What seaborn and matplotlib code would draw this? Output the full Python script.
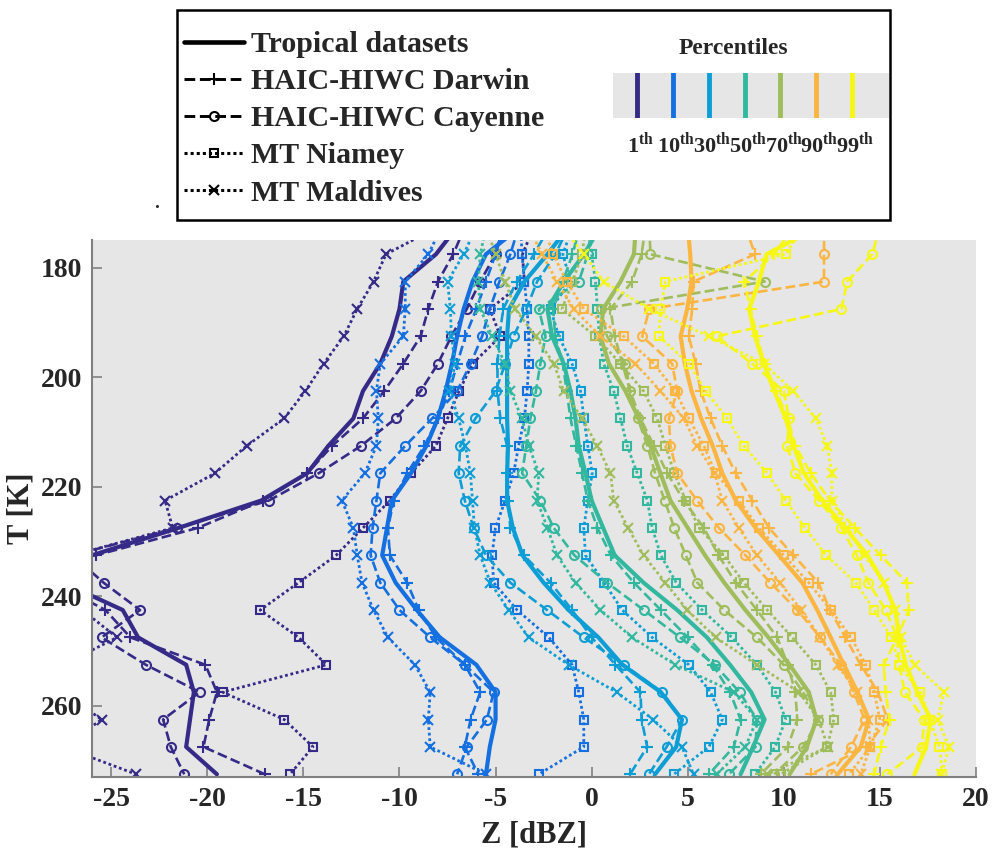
import numpy as np
import pandas as pd
import matplotlib
matplotlib.use("Agg")
import matplotlib.pyplot as plt
from matplotlib.lines import Line2D
from matplotlib.patches import Rectangle
import seaborn as sns

# temperature levels (K), top one sits just above the plotted range
T_LEVELS = [172.5, 177.5, 182.5, 187.5, 192.5, 197.5, 202.5, 207.5, 212.5, 217.5, 222.5,
            227.5, 232.5, 237.5, 242.5, 247.5, 252.5, 257.5, 262.5, 267.5, 272.5]

PERCENTILES = [1, 10, 30, 50, 70, 90, 99]
PCT_COLORS = ['#352a87', '#146fe0', '#0d9ed6', '#33b8a0', '#a0bd5c', '#fbb540', '#f6f714']

# Z [dBZ] per percentile (rows: 1, 10, 30, 50, 70, 90, 99)
tropical = [
    [-7.0, -8.1, -9.8, -10.0, -10.4, -11.0, -11.9, -12.4, -13.7, -14.8, -17.2, -21.5, -26.0, -27.5, -24.4, -23.6, -21.1, -20.7, -20.9, -21.1, -19.5],
    [-3.7, -5.5, -6.2, -6.66, -7.0, -7.27, -7.6, -8.0, -8.6, -9.4, -10.4, -10.65, -10.9, -10.2, -9.1, -7.9, -6.0, -5.0, -5.0, -5.3, -5.5],
    [-1.2, -2.3, -3.5, -4.3, -4.4, -4.4, -4.4, -4.4, -4.35, -4.4, -4.4, -4.1, -3.6, -2.5, -1.2, 0.35, 1.6, 3.6, 4.7, 4.4, 3.3],
    [0.45, -0.4, -1.45, -2.3, -2.06, -1.45, -1.1, -0.84, -0.67, -0.32, 0.0, 0.6, 1.2, 2.7, 4.45, 6.0, 7.2, 8.3, 9.0, 8.4, 7.75],
    [2.3, 2.2, 1.5, 0.6, 0.46, 0.9, 1.76, 2.45, 3.06, 3.58, 4.1, 5.0, 5.9, 6.9, 8.0, 9.2, 10.3, 11.3, 11.7, 11.2, 10.3],
    [5.0, 5.13, 5.2, 4.97, 4.63, 4.85, 5.2, 5.7, 6.3, 6.8, 7.5, 8.53, 9.75, 10.96, 11.74, 12.44, 13.13, 13.83, 14.43, 14.0, 12.8],
    [11.8, 9.1, 8.7, 8.2, 8.5, 8.96, 9.5, 10.1, 10.5, 11.05, 12.0, 13.2, 14.35, 15.2, 15.8, 16.0, 16.35, 16.95, 17.65, 17.4, 16.8],
]
darwin = [
    [-6.6, -7.2, -8.0, -8.5, -8.9, -9.8, -10.8, -11.9, -13.5, -14.8, -17.1, -20.5, -25.8, -28.0, -25.3, -24.0, -20.1, -19.5, -19.9, -20.2, -17.0],
    [-4.6, -5.0, -5.5, -6.0, -6.57, -7.0, -7.4, -8.0, -8.7, -9.6, -10.3, -10.6, -10.5, -9.6, -9.0, -8.1, -6.6, -5.8, -6.3, -6.6, -5.9],
    [-2.2, -3.0, -3.9, -4.6, -4.8, -4.9, -4.9, -4.75, -4.4, -4.4, -4.35, -4.23, -3.53, -2.14, -1.02, 0.0, 1.24, 2.54, 2.6, 2.89, 2.0],
    [-0.6, -1.0, -1.5, -2.0, -1.9, -1.5, -1.3, -1.1, -0.8, -0.5, -0.2, 0.3, 1.0, 2.2, 3.6, 5.0, 6.3, 7.2, 7.75, 7.4, 6.1],
    [2.8, 2.6, 2.1, 0.98, 1.2, 1.6, 2.0, 2.54, 3.24, 3.93, 4.8, 5.84, 6.6, 7.5, 8.6, 9.66, 10.2, 10.6, 10.7, 10.2, 8.8],
    [8.0, 8.5, 5.3, 5.23, 5.06, 5.41, 5.67, 6.19, 6.8, 7.49, 8.36, 9.23, 10.5, 11.8, 12.4, 13.2, 14.0, 14.9, 15.4, 14.3, 11.4],
    [10.5, 9.5, 7.95, 8.27, 8.6, 9.0, 9.6, 10.2, 10.6, 11.4, 12.4, 13.7, 15.04, 16.4, 16.5, 15.9, 15.2, 15.3, 15.5, 15.04, 14.7],
]
cayenne = [
    [-4.6, -5.0, -5.8, -6.5, -7.3, -8.0, -8.9, -10.2, -12.0, -14.2, -16.8, -21.6, -27.0, -25.4, -23.5, -25.5, -23.2, -20.4, -22.3, -21.9, -21.2],
    [-3.8, -4.23, -4.8, -5.3, -5.7, -6.3, -7.0, -8.3, -9.7, -11.0, -11.2, -11.4, -11.5, -11.0, -10.0, -8.4, -6.6, -5.1, -5.45, -6.5, -7.0],
    [-1.2, -1.89, -2.84, -3.4, -4.06, -4.5, -5.0, -6.05, -6.84, -6.92, -6.6, -6.14, -5.5, -4.23, -2.32, -0.41, 1.67, 3.67, 4.71, 3.9, 2.98],
    [0.0, -0.2, -0.67, -2.75, -2.4, -2.67, -2.9, -3.19, -3.4, -3.62, -2.67, -1.97, -0.9, 0.8, 2.71, 4.6, 6.4, 7.7, 8.6, 8.53, 7.14],
    [3.0, 3.06, 9.0, 0.5, 0.8, 1.76, 2.0, 2.4, 2.9, 3.3, 3.8, 4.3, 4.9, 5.5, 6.9, 8.6, 10.0, 11.0, 11.8, 11.0, 9.5],
    [12.1, 12.09, 12.09, 3.0, 2.63, 4.19, 4.45, 4.02, 4.1, 4.45, 5.49, 6.62, 8.0, 9.3, 10.7, 11.9, 12.96, 13.65, 14.2, 13.5, 12.44],
    [15.0, 14.6, 13.3, 13.0, 6.5, 8.36, 10.0, 10.27, 10.18, 10.6, 11.83, 13.0, 13.8, 14.4, 15.3, 15.9, 16.0, 16.3, 17.3, 17.2, 15.39],
]
niamey = [
    [-3.0, -3.6, -3.5, -5.3, -4.75, -6.2, -6.9, -7.5, -8.1, -9.4, -10.5, -11.9, -13.3, -15.25, -17.25, -15.25, -13.8, -19.2, -16.0, -14.5, -15.7],
    [-3.7, -3.62, -3.5, -3.36, -3.27, -3.27, -3.36, -3.5, -3.8, -4.06, -4.5, -5.01, -5.18, -5.1, -3.88, -2.23, -1.02, -0.67, -0.41, -0.41, -2.75],
    [-1.0, -1.5, -1.1, -2.14, -1.71, -1.02, -0.58, -0.4, -0.2, 0.03, -0.2, -0.41, -0.32, 0.65, 1.59, 3.15, 5.06, 6.19, 6.8, 6.1, 4.28],
    [-0.2, 0.0, 0.2, 0.3, 0.4, 0.63, 1.15, 1.5, 1.85, 2.37, 2.9, 3.15, 3.6, 4.4, 5.75, 7.3, 8.6, 9.57, 10.1, 9.55, 8.5],
    [-0.3, -0.5, -1.0, -1.54, 0.2, 1.5, 2.7, 3.41, 3.84, 4.3, 4.9, 5.6, 6.88, 7.92, 9.14, 10.44, 11.66, 12.44, 12.6, 12.26, 9.83],
    [-2.5, -2.0, -1.3, -0.41, 1.67, 3.24, 4.36, 5.06, 5.84, 6.45, 7.66, 8.7, 10.0, 11.3, 12.44, 13.5, 14.26, 14.7, 15.0, 14.5, 13.4],
    [11.0, 10.1, 3.84, 3.58, 3.5, 5.06, 5.93, 7.05, 7.92, 9.14, 10.1, 11.1, 12.2, 13.74, 14.7, 15.6, 16.0, 17.1, 17.6, 18.1, 18.25],
]
maldives = [
    [-8.0, -10.7, -11.35, -12.2, -12.9, -13.95, -14.9, -16.0, -17.95, -19.6, -22.2, -21.8, -27.0, -28.0, -26.5, -24.7, -27.5, -27.5, -25.5, -27.5, -23.7],
    [-7.8, -8.5, -9.7, -9.7, -9.8, -11.0, -11.2, -11.1, -11.2, -11.8, -13.0, -12.4, -12.2, -11.95, -11.35, -10.6, -9.2, -8.4, -8.5, -8.4, -5.5],
    [-6.0, -6.66, -7.5, -7.35, -7.3, -7.1, -7.4, -6.92, -6.57, -6.31, -6.2, -6.1, -5.8, -5.27, -4.32, -3.27, -1.2, 1.3, 3.2, 4.7, 5.3],
    [-5.5, -5.79, -5.9, -5.79, -5.18, -4.5, -4.23, -3.62, -3.27, -2.75, -2.84, -2.3, -1.8, -0.84, 0.46, 2.1, 4.36, 7.4, 8.6, 8.0, 6.5],
    [-5.5, -5.0, -4.5, -3.97, -2.92, -1.97, -1.45, -0.5, 0.29, 0.98, 1.15, 1.9, 2.7, 3.84, 4.97, 6.45, 8.6, 10.8, 11.8, 12.3, 9.14],
    [-3.3, -2.58, -1.8, -0.93, 0.46, 2.28, 3.58, 4.8, 5.49, 6.4, 6.8, 7.66, 8.6, 9.8, 10.9, 11.9, 12.8, 13.8, 14.4, 14.5, 14.0],
    [-1.5, -0.41, 0.63, 3.0, 6.1, 8.96, 10.5, 11.66, 12.26, 12.5, 12.5, 13.3, 14.2, 15.2, 15.8, 16.1, 16.8, 18.34, 18.0, 18.6, 18.2],
]

DATASETS = {
    'HAIC-HIWC Darwin': darwin,
    'HAIC-HIWC Cayenne': cayenne,
    'MT Niamey': niamey,
    'MT Maldives': maldives,
    'Tropical datasets': tropical,
}
LEGEND_ORDER = ['Tropical datasets', 'HAIC-HIWC Darwin', 'HAIC-HIWC Cayenne', 'MT Niamey', 'MT Maldives']

DOT = (0, (1.0, 1.0))
STYLES = {
    'Tropical datasets': dict(linestyle='-', lw=3.0, marker=None, ms=0),
    'HAIC-HIWC Darwin': dict(linestyle='--', lw=1.9, marker='+', ms=8),
    'HAIC-HIWC Cayenne': dict(linestyle='--', lw=1.9, marker='o', ms=6.5),
    'MT Niamey': dict(linestyle=DOT, lw=2.0, marker='s', ms=5.5),
    'MT Maldives': dict(linestyle=DOT, lw=2.0, marker='x', ms=6.5),
}

rows = []
for name, table in DATASETS.items():
    for pct, vals in zip(PERCENTILES, table):
        for t, z in zip(T_LEVELS, vals):
            rows.append({'dataset': name, 'pct': pct, 'T': t, 'Z': z})
df = pd.DataFrame(rows)

sns.set_style('ticks')
plt.rcParams['font.family'] = ['Liberation Serif', 'DejaVu Serif']
plt.rcParams['font.weight'] = 'bold'
plt.rcParams['axes.labelweight'] = 'bold'
plt.rcParams['axes.unicode_minus'] = False
plt.rcParams['mathtext.fontset'] = 'custom'
plt.rcParams['mathtext.rm'] = 'Liberation Serif:bold'
plt.rcParams['mathtext.bf'] = 'Liberation Serif:bold'

fig = plt.figure(figsize=(9.93, 8.55), dpi=100)
ax = fig.add_axes([92 / 993, 1 - 777 / 855, (976 - 92) / 993, (777 - 240) / 855])
ax.set_facecolor('#e6e6e6')

for pct, col in zip(PERCENTILES, PCT_COLORS):
    for name in DATASETS:
        sub = df[(df['pct'] == pct) & (df['dataset'] == name)]
        st = STYLES[name]
        kw = dict(linestyle=st['linestyle'], lw=st['lw'])
        if st['marker']:
            kw.update(marker=st['marker'], ms=st['ms'], mec=col, mfc='none', mew=1.5)
        sns.lineplot(data=sub, x='Z', y='T', sort=False, estimator=None,
                     color=col, ax=ax, legend=False, **kw)

ax.set_xlim(-26, 20)
ax.set_ylim(273.0, 174.9)
ax.set_xticks([-25, -20, -15, -10, -5, 0, 5, 10, 15, 20])
ax.set_yticks([180, 200, 220, 240, 260])
ax.tick_params(direction='in', length=7, width=1.2, color='#808080', labelsize=20, pad=7)
for s in ['top', 'right']:
    ax.spines[s].set_visible(False)
for s in ['left', 'bottom']:
    ax.spines[s].set_color('#808080')
    ax.spines[s].set_linewidth(1.5)
ax.set_xlabel('Z [dBZ]', fontsize=22, labelpad=6)
ax.set_ylabel('T [K]', fontsize=22, labelpad=4)

# legend box
fig.patches.append(Rectangle((177 / 993, 1 - 220 / 855), 713 / 993, 210 / 855, fill=False,
                             lw=1.8, edgecolor='black', transform=fig.transFigure, figure=fig))
handles = []
for name in LEGEND_ORDER:
    st = STYLES[name]
    h = Line2D([], [], color='black', linestyle=st['linestyle'], lw=st['lw'] * 1.1)
    if st['marker']:
        h.set_marker(st['marker'])
        h.set_markersize(st['ms'])
        h.set_markerfacecolor('none')
        h.set_markeredgewidth(1.5)
    handles.append(h)
fig.legend(handles, LEGEND_ORDER,
           loc='upper left', bbox_to_anchor=(184 / 993, 1 - 31 / 855), frameon=False,
           prop={'family': 'Liberation Serif', 'weight': 'bold', 'size': 21.5},
           handlelength=2.0, handletextpad=0.25, labelspacing=0.34, borderpad=0, borderaxespad=0)

fig.text(733 / 993, 1 - 48 / 855, 'Percentiles', ha='center', va='center', fontsize=17)
sax = fig.add_axes([613 / 993, 1 - 118 / 855, 276 / 993, 45 / 855])
sax.set_facecolor('#e6e6e6')
sax.set_xlim(0, 1)
sax.set_ylim(0, 1)
sax.set_xticks([])
sax.set_yticks([])
for s in sax.spines.values():
    s.set_visible(False)
bar_x = np.linspace(0.087, 0.866, len(PERCENTILES))
for bx, pct, col in zip(bar_x, PERCENTILES, PCT_COLORS):
    sax.axvline(bx, color=col, lw=3.5)
    sax.text(bx + 0.012, -0.58, f'{pct}' + r'$^{\mathbf{th}}$', transform=sax.transAxes,
             ha='center', va='center', fontsize=16)

fig.text(157 / 993, 1 - 203 / 855, '.', fontsize=14, ha='center', va='center')

fig.savefig('out.png', dpi=100)
